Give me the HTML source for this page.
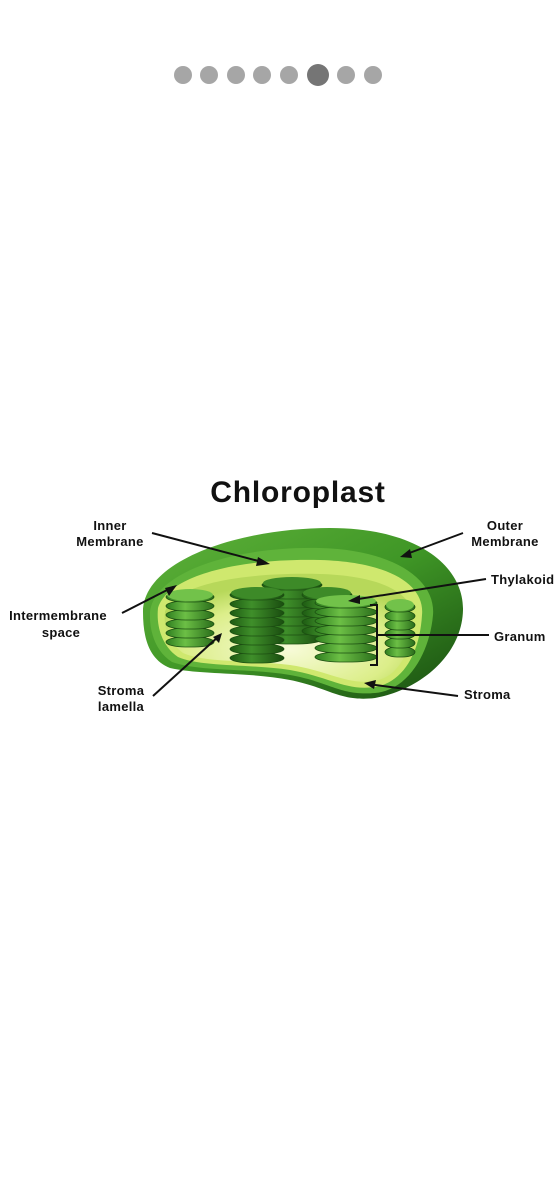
<!DOCTYPE html>
<html><head><meta charset="utf-8"><style>
html,body{margin:0;padding:0;background:#fff;}
body{width:556px;height:1198px;position:relative;overflow:hidden;font-family:"Liberation Sans",sans-serif;}
svg{position:absolute;left:0;top:0;}
</style></head><body>
<svg width="556" height="1198" viewBox="0 0 556 1198">
<defs>
<linearGradient id="outer" x1="0" y1="0" x2="1" y2="1">
<stop offset="0" stop-color="#5fb23a"/><stop offset="0.5" stop-color="#3f9626"/><stop offset="1" stop-color="#184d10"/></linearGradient>
<radialGradient id="cav" cx="0.5" cy="0.7" r="0.6">
<stop offset="0" stop-color="#f7fbd8"/><stop offset="0.7" stop-color="#dcee8a"/><stop offset="1" stop-color="#b7d85a"/></radialGradient>
<linearGradient id="stk" x1="0" y1="0" x2="1" y2="0">
<stop offset="0" stop-color="#2e7d1f"/><stop offset="0.4" stop-color="#6cbf45"/><stop offset="1" stop-color="#2a6d1b"/></linearGradient>
<linearGradient id="stkd" x1="0" y1="0" x2="1" y2="0">
<stop offset="0" stop-color="#1d5a12"/><stop offset="0.4" stop-color="#3f8f2a"/><stop offset="1" stop-color="#1a4d10"/></linearGradient>
</defs>
<g>
<circle cx="183" cy="75" r="9" fill="#a6a6a6"/>
<circle cx="209" cy="75" r="9" fill="#a6a6a6"/>
<circle cx="236" cy="75" r="9" fill="#a6a6a6"/>
<circle cx="262" cy="75" r="9" fill="#a6a6a6"/>
<circle cx="289" cy="75" r="9" fill="#a6a6a6"/>
<circle cx="318" cy="75" r="11" fill="#757575"/>
<circle cx="346" cy="75" r="9" fill="#a6a6a6"/>
<circle cx="373" cy="75" r="9" fill="#a6a6a6"/>
</g>
<text x="298" y="502" text-anchor="middle" font-size="30" font-weight="bold" letter-spacing="0.8" fill="#111">Chloroplast</text>
<g>
<path d="M143,612 C143,560 240,528 330,528 C420,528 464,568 463,610 C462,655 420,690 375,698 C340,702 330,688 290,680 C250,672 200,675 170,668 C150,660 143,640 143,612 Z" fill="url(#outer)"/>
<path d="M150,612 C155,570 240,546 320,548 C395,550 436,580 433,615 C430,650 410,690 375,693 C340,696 330,682 290,675 C250,668 200,672 172,662 C156,652 149,632 150,612 Z" fill="#5fb33a"/>
<path d="M158,608 C168,575 240,558 320,560 C390,562 425,585 422,615 C420,650 405,682 375,687 C345,691 330,677 290,670 C250,664 200,667 178,657 C163,647 156,628 158,608 Z" fill="#cfe86e"/>
<path d="M165,612 C173,585 240,572 320,574 C385,576 415,595 413,620 C411,650 400,676 375,681 C345,685 330,671 290,665 C250,660 205,663 183,653 C170,643 163,630 165,612 Z" fill="url(#cav)"/>
</g>
<g id="stacks"></g>
<g stroke="#111" stroke-width="2" fill="none">
<line x1="152" y1="533" x2="266" y2="563"/>
<line x1="463" y1="533" x2="404" y2="555"/>
<line x1="486" y1="579" x2="352" y2="600"/>
<line x1="489" y1="635" x2="378" y2="635"/>
<polyline points="370,605 377,605 377,665 370,665"/>
<line x1="458" y1="696" x2="368" y2="684"/>
<line x1="122" y1="613" x2="173" y2="587"/>
<line x1="153" y1="696" x2="219" y2="636"/>
</g>
<g fill="#111">
<polygon points="270,564 258,557 256,566"/>
<polygon points="400,557 410,549 412,558"/>
<polygon points="348,601 360,595 360,604"/>
<polygon points="364,683 376,680 374,689"/>
<polygon points="177,585 165,588 169,596"/>
<polygon points="222,633 213,637 219,643"/>
</g>
<g font-size="13" font-weight="bold" fill="#111" letter-spacing="0.3">
<text x="110" y="530" text-anchor="middle">Inner</text>
<text x="110" y="546" text-anchor="middle">Membrane</text>
<text x="505" y="530" text-anchor="middle">Outer</text>
<text x="505" y="546" text-anchor="middle">Membrane</text>
<text x="491" y="584">Thylakoid</text>
<text x="494" y="641">Granum</text>
<text x="464" y="699">Stroma</text>
<text x="58" y="620" text-anchor="middle">Intermembrane</text>
<text x="61" y="637" text-anchor="middle">space</text>
<text x="121" y="695" text-anchor="middle">Stroma</text>
<text x="121" y="711" text-anchor="middle">lamella</text>
</g>
</svg>
<script>
const stackCx=[292,327,190,257,346,400];
const stackW=[60,50,48,54,62,30];
const stackTop=[580,590,592,590,598,602];
const stackCount=[7,5,6,8,7,6];
const stackDark=[1,1,0,1,0,0];
const g=document.getElementById('stacks');
const NS='http://www.w3.org/2000/svg';
for(let s=0;s<stackCx.length;s++){
  const grp=document.createElementNS(NS,'g');
  
  
  for(let i=stackCount[s]-1;i>=0;i--){
    const y=stackTop[s]+i*9;
    const r=document.createElementNS(NS,'rect');
    r.setAttribute('x',stackCx[s]-stackW[s]/2);r.setAttribute('y',y);
    r.setAttribute('width',stackW[s]);r.setAttribute('height',10);r.setAttribute('rx',stackW[s]/2.5);r.setAttribute('ry',5);
    r.setAttribute('fill',stackDark[s]?'url(#stkd)':'url(#stk)');r.setAttribute('stroke','#1c4f12');r.setAttribute('stroke-width','0.8');
    
    
    grp.appendChild(r);
  }
  const e=document.createElementNS(NS,'ellipse');
  e.setAttribute('cx',stackCx[s]);e.setAttribute('cy',stackTop[s]+3);e.setAttribute('rx',stackW[s]/2-1);e.setAttribute('ry',6);
  e.setAttribute('fill',stackDark[s]?'#3d8a28':'#72c24a');
  
  
  grp.appendChild(e);
  g.appendChild(grp);
}
</script>
</body></html>
